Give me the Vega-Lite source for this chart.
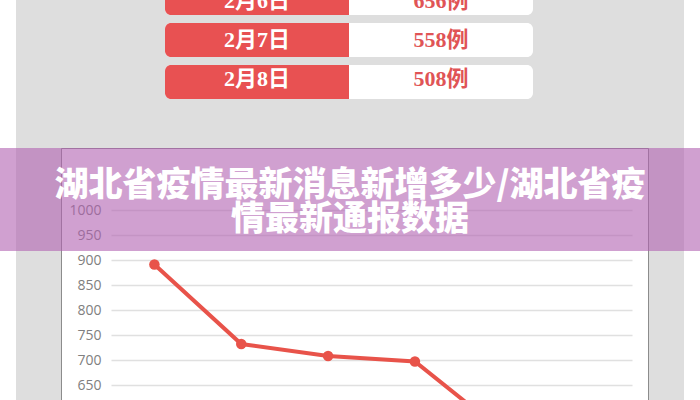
{
  "$schema": "https://vega.github.io/schema/vega-lite/v6.json",
  "width": 700,
  "height": 400,
  "autosize": {"type": "none"},
  "padding": 0,
  "background": "#ffffff",
  "config": {"view": {"stroke": null, "fill": "#ffffff"}},
  "datasets": {
    "table": [
      {"date": "2月6日", "col": "日期", "label": "2月6日"},
      {"date": "2月6日", "col": "例数", "label": "656例"},
      {"date": "2月7日", "col": "日期", "label": "2月7日"},
      {"date": "2月7日", "col": "例数", "label": "558例"},
      {"date": "2月8日", "col": "日期", "label": "2月8日"},
      {"date": "2月8日", "col": "例数", "label": "508例"}
    ],
    "cases": [
      {"day": "2月3日", "cases": 891},
      {"day": "2月4日", "cases": 732},
      {"day": "2月5日", "cases": 708},
      {"day": "2月6日", "cases": 697},
      {"day": "2月7日", "cases": 558},
      {"day": "2月8日", "cases": 508}
    ],
    "banner": [
      {"title": ["湖北省疫情最新消息新增多少/湖北省疫", "情最新通报数据"]}
    ]
  },
  "layer": [
    {
      "data": {"values": [{"area": "top"}]},
      "mark": {"type": "rect", "color": "#dedede"},
      "encoding": {
        "x": {"field": "area", "type": "nominal", "axis": null,
              "scale": {"domain": ["top"], "range": [16, 684], "paddingInner": 0, "paddingOuter": 0}},
        "y": {"field": "area", "type": "nominal", "axis": null,
              "scale": {"domain": ["top"], "range": [0, 149], "paddingInner": 0, "paddingOuter": 0}}
      }
    },
    {
      "data": {"values": [{"area": "left"}]},
      "mark": {"type": "rect", "color": "#dedede"},
      "encoding": {
        "x": {"field": "area", "type": "nominal", "axis": null,
              "scale": {"domain": ["left"], "range": [16, 61.5], "paddingInner": 0, "paddingOuter": 0}},
        "y": {"field": "area", "type": "nominal", "axis": null,
              "scale": {"domain": ["left"], "range": [148, 400], "paddingInner": 0, "paddingOuter": 0}}
      }
    },
    {
      "data": {"values": [{"area": "right"}]},
      "mark": {"type": "rect", "color": "#dedede"},
      "encoding": {
        "x": {"field": "area", "type": "nominal", "axis": null,
              "scale": {"domain": ["right"], "range": [648.5, 684], "paddingInner": 0, "paddingOuter": 0}},
        "y": {"field": "area", "type": "nominal", "axis": null,
              "scale": {"domain": ["right"], "range": [148, 400], "paddingInner": 0, "paddingOuter": 0}}
      }
    },
    {
      "data": {"name": "table"},
      "transform": [{"filter": "datum.col == '日期'"}],
      "mark": {"type": "rect", "color": "#ffffff", "cornerRadius": 6},
      "encoding": {
        "x": {"datum": "row", "type": "nominal", "axis": null,
              "scale": {"domain": ["row"], "range": [165, 533], "paddingInner": 0, "paddingOuter": 0}},
        "y": {"field": "date", "type": "nominal", "axis": null,
              "scale": {"domain": ["2月6日", "2月7日", "2月8日"], "range": [-19, 99], "paddingInner": 0.19, "paddingOuter": 0}}
      }
    },
    {
      "data": {"name": "table"},
      "transform": [{"filter": "datum.col == '日期'"}],
      "mark": {"type": "rect", "color": "#e85152", "cornerRadiusTopLeft": 6, "cornerRadiusBottomLeft": 6},
      "encoding": {
        "x": {"field": "col", "type": "nominal", "axis": null,
              "scale": {"domain": ["日期", "例数"], "range": [165, 533], "paddingInner": 0, "paddingOuter": 0}},
        "y": {"field": "date", "type": "nominal", "axis": null,
              "scale": {"domain": ["2月6日", "2月7日", "2月8日"], "range": [-19, 99], "paddingInner": 0.19, "paddingOuter": 0}}
      }
    },
    {
      "data": {"name": "table"},
      "mark": {"type": "text", "font": "Liberation Serif, Noto Sans CJK SC", "fontWeight": "bold", "fontSize": 22, "baseline": "middle"},
      "encoding": {
        "x": {"field": "col", "type": "nominal", "axis": null, "bandPosition": 0.5,
              "scale": {"domain": ["日期", "例数"], "range": [165, 533], "paddingInner": 0, "paddingOuter": 0}},
        "y": {"field": "date", "type": "nominal", "axis": null, "bandPosition": 0.5,
              "scale": {"domain": ["2月6日", "2月7日", "2月8日"], "range": [-19, 99], "paddingInner": 0.19, "paddingOuter": 0}},
        "text": {"field": "label", "type": "nominal"},
        "color": {"field": "col", "type": "nominal", "legend": null,
                  "scale": {"domain": ["日期", "例数"], "range": ["#ffffff", "#e05456"]}}
      }
    },
    {
      "data": {"values": [{"area": "chart"}]},
      "mark": {"type": "rect", "fill": null, "fillOpacity": 0, "stroke": "#8c8c8c", "strokeWidth": 1},
      "encoding": {
        "x": {"field": "area", "type": "nominal", "axis": null,
              "scale": {"domain": ["chart"], "range": [61.5, 648.5], "paddingInner": 0, "paddingOuter": 0}},
        "y": {"field": "area", "type": "nominal", "axis": null,
              "scale": {"domain": ["chart"], "range": [148.5, 430], "paddingInner": 0, "paddingOuter": 0}}
      }
    },
    {
      "data": {"name": "cases"},
      "mark": {"type": "line", "color": "#e8534a", "strokeWidth": 4,
               "point": {"filled": true, "size": 110, "color": "#e8534a"}},
      "encoding": {
        "x": {"field": "day", "type": "nominal", "axis": null, "bandPosition": 0.5, "sort": null,
              "scale": {"type": "band", "range": [111, 632], "paddingInner": 0, "paddingOuter": 0}},
        "y": {"field": "cases", "type": "quantitative",
              "scale": {"domain": [620, 1420], "nice": false, "zero": false},
              "axis": {"title": null, "values": [650, 700, 750, 800, 850, 900, 950, 1000], "format": "d",
                       "offset": -108, "domain": false, "ticks": false, "labelPadding": 7,
                       "labelFont": "Open Sans", "labelFontSize": 14, "labelColor": "#808080",
                       "grid": true, "gridColor": "#e0e0e0", "gridWidth": 1.5}}
      }
    },
    {
      "data": {"values": [{"area": "banner"}]},
      "mark": {"type": "rect", "color": "#b060b0", "opacity": 0.6},
      "encoding": {
        "y": {"field": "area", "type": "nominal", "axis": null,
              "scale": {"domain": ["banner"], "range": [148, 251], "paddingInner": 0, "paddingOuter": 0}}
      }
    },
    {
      "data": {"name": "banner"},
      "mark": {"type": "text", "color": "#ffffff", "font": "Noto Sans CJK SC", "fontWeight": 900,
               "fontSize": 34, "lineHeight": 34, "align": "center", "baseline": "middle"},
      "encoding": {
        "x": {"datum": "t", "type": "nominal", "axis": null, "bandPosition": 0.5,
              "scale": {"domain": ["t"], "range": [0, 700], "paddingInner": 0, "paddingOuter": 0}},
        "y": {"datum": "t", "type": "nominal", "axis": null, "bandPosition": 0.5,
              "scale": {"domain": ["t"], "range": [136, 236], "paddingInner": 0, "paddingOuter": 0}},
        "text": {"field": "title", "type": "nominal"}
      }
    }
  ],
  "resolve": {"scale": {"x": "independent", "y": "independent", "color": "independent"}, "axis": {"x": "independent", "y": "independent"}}
}
